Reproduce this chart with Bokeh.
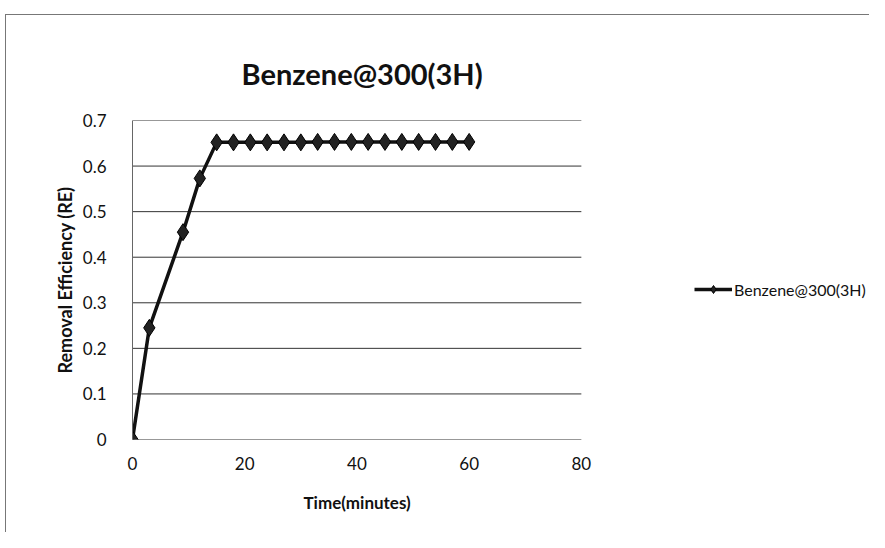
from bokeh.plotting import figure
from bokeh.models import Range1d, FixedTicker, Legend, LegendItem, Title
from bokeh.embed import file_html
from bokeh.resources import INLINE

# Data
time_min = [0, 3, 9, 12, 15, 18, 21, 24, 27, 30, 33, 36, 39, 42, 45, 48, 51, 54, 57, 60]
removal_eff = [0.0, 0.245, 0.455, 0.573, 0.652, 0.652, 0.652, 0.652, 0.652, 0.652,
               0.653, 0.653, 0.653, 0.653, 0.653, 0.653, 0.653, 0.653, 0.653, 0.653]
x_ticks = [0, 20, 40, 60, 80]
y_ticks = [0, 0.1, 0.2, 0.3, 0.4, 0.5, 0.6, 0.7]
series_name = "Benzene@300(3H)"
title_text = "Benzene@300(3H)"
x_label = "Time(minutes)"
y_label = "Removal Efficiency (RE)"

FONT = "Lato"

# the frame is widened to the right so that the legend can sit inside it;
# the visible plot area (gridlines) runs from x_ticks[0] to x_ticks[-1]
p = figure(width=864, height=518, output_backend="svg", toolbar_location=None,
           x_range=Range1d(0, 131), y_range=Range1d(0, 0.7),
           min_border_left=126, min_border_right=3,
           min_border_top=105, min_border_bottom=94)
p.margin = (14, 0, 0, 5)
p.title = None
t = Title(text=title_text, align="left", offset=109, text_font=FONT,
          text_font_size="29px", text_font_style="bold", text_color="#111111",
          standoff=60)
p.add_layout(t, "above")

p.styles = {"border-top": "1px solid #777", "border-left": "1px solid #777"}
p.outline_line_color = None
p.background_fill_color = "white"
p.border_fill_color = "white"

# axes
p.xaxis.ticker = FixedTicker(ticks=x_ticks)
p.yaxis.ticker = FixedTicker(ticks=y_ticks)
p.yaxis.major_label_overrides = {0: "0"}
for ax in (p.xaxis[0], p.yaxis[0]):
    ax.major_tick_line_color = None
    ax.minor_tick_line_color = None
    ax.major_label_text_font = FONT
    ax.major_label_text_font_size = "17px"
    ax.major_label_text_color = "#111111"
    ax.axis_label_text_font = FONT
    ax.axis_label_text_font_style = "bold"
    ax.axis_label_text_color = "#111111"
p.yaxis.axis_label_text_font_size = "18px"
p.xaxis.axis_line_color = None
p.yaxis.axis_line_color = "#666666"
p.yaxis.axis_label = y_label
p.xaxis.major_label_standoff = 11
p.yaxis.major_label_standoff = 20
p.yaxis.axis_label_standoff = 4

xt = Title(text=x_label, align="left", offset=171, text_font=FONT,
           text_font_size="17px", text_font_style="bold", text_color="#111111",
           standoff=34)
p.add_layout(xt, "below")

# horizontal gridlines across the plot area only
p.xgrid.grid_line_color = None
p.ygrid.grid_line_color = None
p.segment(x0=[x_ticks[0]] * len(y_ticks), x1=[x_ticks[-1]] * len(y_ticks),
          y0=y_ticks, y1=y_ticks, line_color="#333333", line_width=1)

ln = p.line(time_min, removal_eff, line_color="#111111", line_width=3.5)
sc = p.scatter(time_min, removal_eff, marker="diamond", size=17,
               fill_color="#222222", line_color="#000000", line_width=1)

legend = Legend(items=[LegendItem(label=series_name, renderers=[ln, sc])],
                location=(562, 140), border_line_color=None,
                background_fill_alpha=0, label_text_font=FONT,
                label_text_font_size="16px", label_text_color="#111111",
                glyph_width=38, glyph_height=20, label_standoff=2, padding=0,
                margin=0)
p.add_layout(legend, "center")

open("out.html", "w").write(file_html(p, INLINE))
